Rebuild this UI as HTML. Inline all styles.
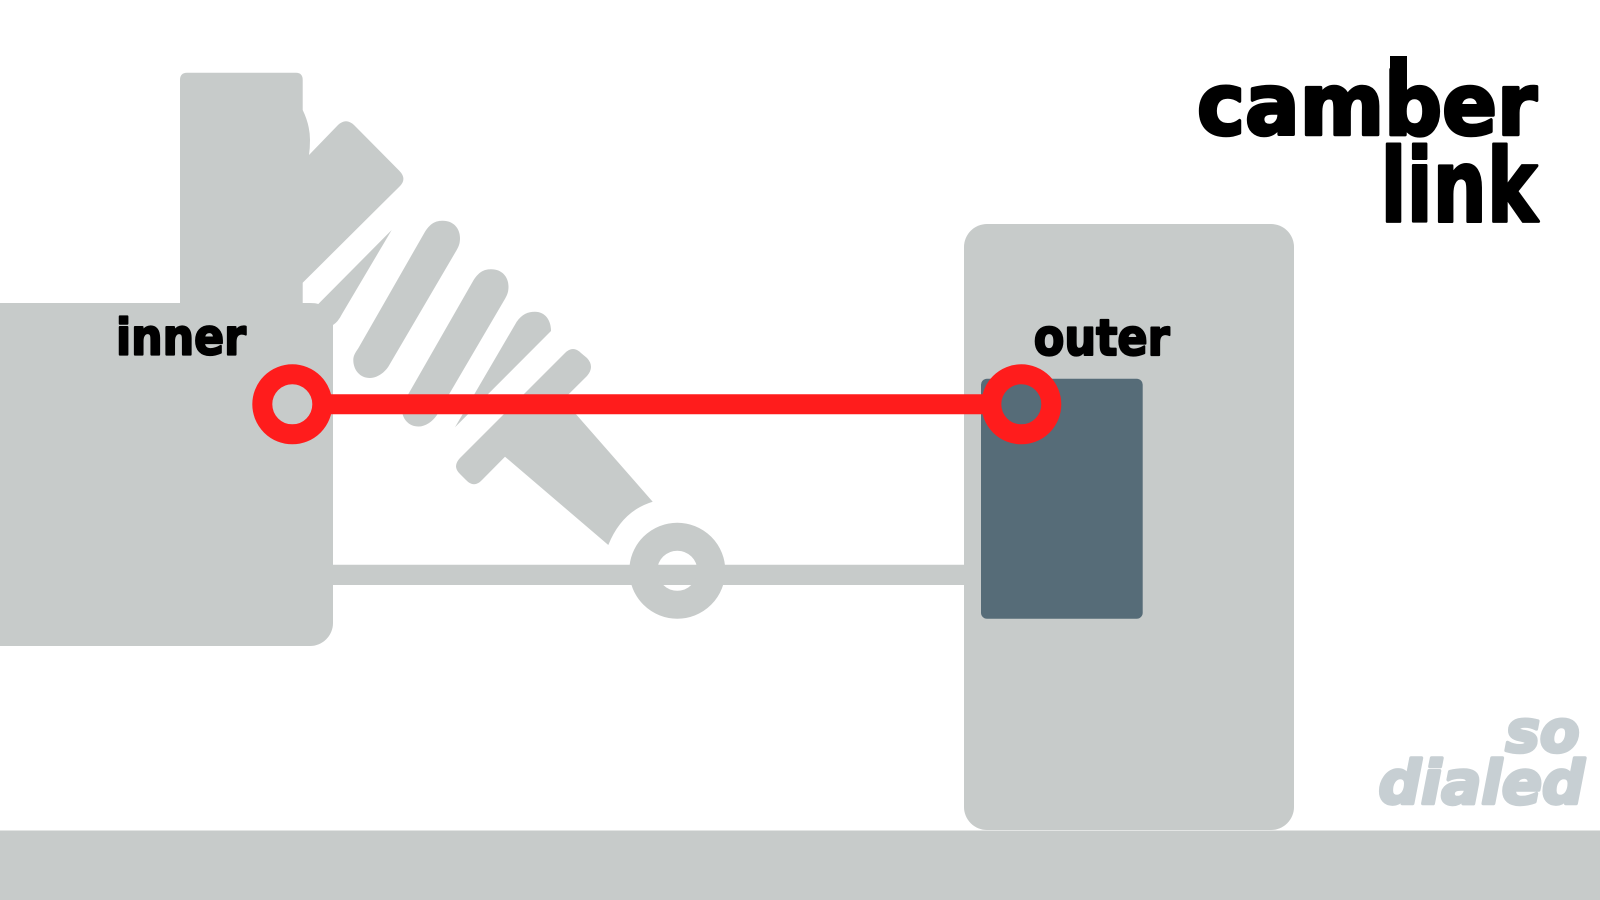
<!DOCTYPE html>
<html>
<head>
<meta charset="utf-8">
<style>
html,body{margin:0;padding:0;background:#fff;width:1600px;height:900px;overflow:hidden}
svg{display:block}
text{font-family:"DejaVu Sans","Liberation Sans",sans-serif;font-weight:700}
</style>
</head>
<body>
<svg width="1600" height="900" viewBox="0 0 1600 900" xmlns="http://www.w3.org/2000/svg">
<rect width="1600" height="900" fill="#fff"/>
<g fill="#c7cbca">
  <rect x="0" y="830.5" width="1600" height="69.5"/>
  <rect x="964" y="224" width="330" height="606" rx="23" ry="23"/>
  <path d="M180 310V80Q180 72.7 187 72.7H296Q302.7 72.7 302.7 80V110Q310 125 310 140Q310 148 309 155L338 125Q346 117.5 354 125L399.3 170.7Q407.5 179 399.3 186.7L302.7 282.7V310Z"/>
  <path d="M0 303H310Q316 303 318.3 304L391.7 230L342 314Q338 322 333 325V623A23 23 0 0 1 310 646H0Z"/>
  <path d="M333 564.7H964V585H333Z"/>
  <path id="coil" d="M425 231.7C431 222 437 220.7 443 220.7C453 220.7 460 228 460 238C460 243 459 246 456.7 250L388.3 366.7C384 373 377 378 370 378C360 378 353.3 370 353.3 360C353.3 356 355 353 358.3 348.3Z"/>
  <path transform="translate(48.5 48.5)" d="M425 231.7C431 222 437 220.7 443 220.7C453 220.7 460 228 460 238C460 243 459 246 456.7 250L388.3 366.7C384 373 377 378 370 378C360 378 353.3 370 353.3 360C353.3 356 355 353 358.3 348.3Z"/>
  <path d="M455 427.3L516.7 321.7C522 314 528 311.7 535 311.7C545 311.7 551 320 551 331Z"/>
  <path d="M565 353Q573 345 581 353L587 358Q595 366.7 587 376L563.2 399.6L652.7 501.7Q622 511 608.3 545L505 456.7L482 480Q474 488.6 466 480L460 474Q452 466.5 460 458Z"/>
</g>
<circle cx="677.3" cy="570.7" r="34" fill="none" stroke="#c7cbca" stroke-width="28"/>
<rect x="981" y="378.7" width="161.7" height="240" rx="6" ry="6" fill="#566c78"/>
<g fill="none" stroke="#ff1c1c">
  <line x1="320" y1="404.3" x2="995" y2="404.3" stroke-width="20"/>
  <circle cx="292.3" cy="404.3" r="30" stroke-width="20"/>
  <circle cx="1021.3" cy="404.3" r="30" stroke-width="20"/>
</g>
<g fill="#000" stroke="#000" stroke-linejoin="round">
  <rect x="1390" y="56" width="17" height="44" stroke="none"/>
  <text x="0" y="0" font-size="86" stroke-width="3.5" textLength="340" lengthAdjust="spacingAndGlyphs" transform="translate(1197 134.5)">camber</text>
  <text x="0" y="0" font-size="102" stroke-width="3" textLength="157" lengthAdjust="spacingAndGlyphs" transform="translate(1380.5 221.5)">link</text>
  <text x="116" y="354.7" font-size="50" stroke-width="2.2" textLength="130" lengthAdjust="spacingAndGlyphs">inner</text>
  <text x="1033.7" y="355" font-size="50" stroke-width="2.2" textLength="136" lengthAdjust="spacingAndGlyphs">outer</text>
</g>
<g fill="#c7cfd3" stroke="#c7cfd3" stroke-width="3.5" stroke-linejoin="round">
  <text x="1505.5" y="751.5" font-size="58" font-style="italic" textLength="74" lengthAdjust="spacingAndGlyphs">so</text>
  <text x="1378.5" y="803.5" font-size="60" font-style="italic" textLength="206" lengthAdjust="spacingAndGlyphs">dialed</text>
</g>
</svg>
</body>
</html>
